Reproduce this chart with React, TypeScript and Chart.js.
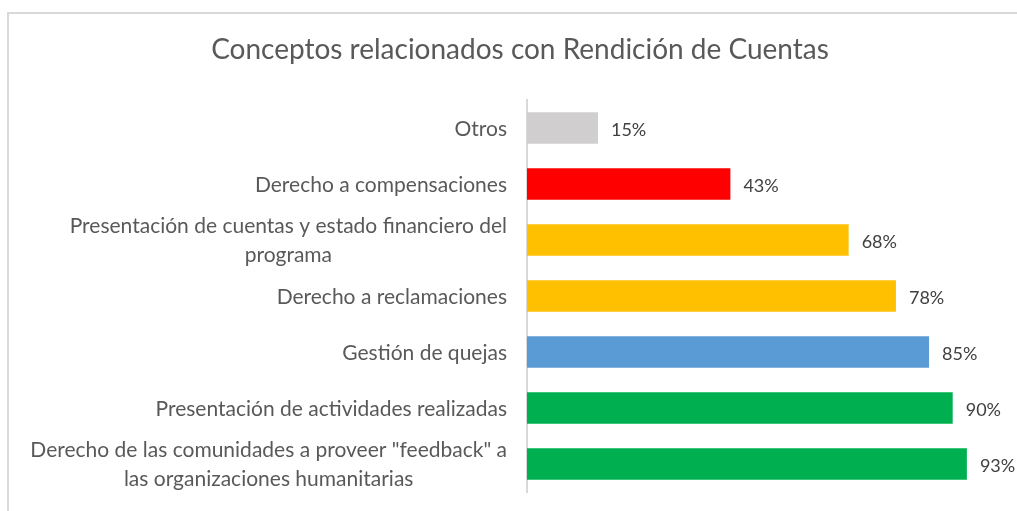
import React, { useEffect, useRef } from "react";
import { Chart, registerables } from "chart.js";

Chart.register(...registerables);

const titleText = "Conceptos relacionados con Rendición de Cuentas";
const categories: string[][] = [
  ["Otros"],
  ["Derecho a compensaciones"],
  ["Presentación de cuentas y estado financiero del", "programa"],
  ["Derecho a reclamaciones"],
  ["Gestión de quejas"],
  ["Presentación de actividades realizadas"],
  ['Derecho de las comunidades a proveer "feedback" a', "las organizaciones humanitarias"],
];
const values = [0.15, 0.43, 0.68, 0.78, 0.85, 0.9, 0.93];
const barColors = ["#d0cece", "#ff0000", "#ffc000", "#ffc000", "#5b9bd5", "#00b050", "#00b050"];

const FONT = "Lato, 'Open Sans', sans-serif";

const customDraw = {
  id: "customDraw",
  afterDraw(chart: any) {
    const ctx = chart.ctx;
    const y = chart.scales.y;
    const meta = chart.getDatasetMeta(0);
    ctx.save();
    // title
    ctx.fillStyle = "#595959";
    ctx.font = `28px ${FONT}`;
    ctx.textAlign = "center";
    ctx.textBaseline = "middle";
    ctx.fillText(titleText, 520, 50);
    // category labels
    ctx.font = `21px ${FONT}`;
    const rightX = 507;
    const lineH = 29;
    categories.forEach((lines, i) => {
      const cy = y.getPixelForValue(i) + 1;
      const widths = lines.map((l) => ctx.measureText(l).width);
      const w = Math.max(...widths);
      const top = cy - ((lines.length - 1) * lineH) / 2;
      lines.forEach((l, j) => {
        ctx.textAlign = "center";
        ctx.fillText(l, rightX - w / 2, top + j * lineH);
      });
    });
    // data labels
    ctx.font = `18px ${FONT}`;
    ctx.fillStyle = "#404040";
    ctx.textAlign = "left";
    meta.data.forEach((bar: any, i: number) => {
      ctx.fillText(Math.round(values[i] * 100) + "%", bar.x + 13, bar.y + 2);
    });
    ctx.restore();
  },
};

export default function App() {
  const ref = useRef<HTMLCanvasElement>(null);
  useEffect(() => {
    if (!ref.current) return;
    const chart = new Chart(ref.current, {
      type: "bar",
      data: {
        labels: categories.map((c) => c.join(" ")),
        datasets: [
          {
            data: values,
            backgroundColor: barColors,
            categoryPercentage: 1,
            barPercentage: 0.56,
          },
        ],
      },
      options: {
        indexAxis: "y",
        animation: false,
        responsive: false,
        layout: { padding: { left: 519, right: 17, top: 100, bottom: 19 } },
        plugins: { legend: { display: false }, tooltip: { enabled: false }, title: { display: false } },
        scales: {
          x: { display: false, min: 0, max: 1 },
          y: {
            display: true,
            ticks: { display: false },
            grid: { display: false },
            border: { display: true, color: "#d9d9d9", width: 2 },
          },
        },
      },
      plugins: [customDraw],
    });
    return () => chart.destroy();
  }, []);
  return (
    <div style={{ position: "fixed", left: 0, top: 0, width: 1017, height: 511, background: "#fff", overflow: "hidden" }}>
      <div
        style={{
          position: "absolute",
          left: 7,
          top: 12,
          width: 1100,
          height: 600,
          borderLeft: "2px solid #d9d9d9",
          borderTop: "2px solid #d9d9d9",
        }}
      />
      <canvas ref={ref} width={1017} height={511} style={{ position: "absolute", left: 0, top: 0, display: "block" }} />
    </div>
  );
}
